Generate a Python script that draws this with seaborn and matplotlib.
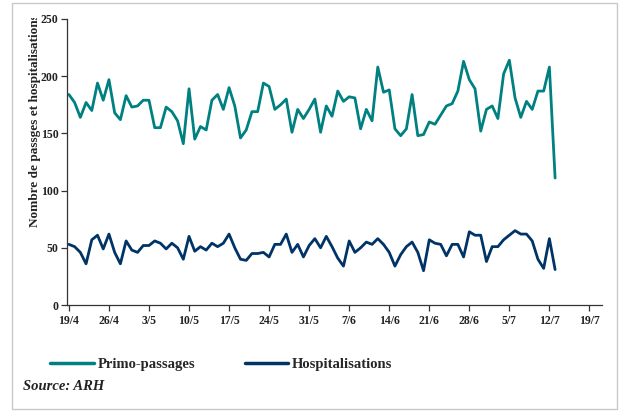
import numpy as np
import pandas as pd
import matplotlib
matplotlib.use("Agg")
import matplotlib.pyplot as plt
from matplotlib.transforms import Bbox
from matplotlib.patches import Rectangle
import seaborn as sns

# ---- data ----
start_date = "2006-04-19"
tick_labels = ["19/4", "26/4", "3/5", "10/5", "17/5", "24/5", "31/5",
               "7/6", "14/6", "21/6", "28/6", "5/7", "12/7", "19/7"]

primo = [184, 177, 164, 177, 170, 194, 179, 197, 168, 162,
         183, 173, 174, 179, 179, 155, 155, 173, 169, 161,
         141, 189, 145, 156, 153, 179, 184, 171, 190, 174,
         146, 153, 169, 169, 194, 191, 171, 175, 180, 151,
         171, 163, 171, 180, 151, 174, 165, 187, 178, 182,
         181, 154, 171, 161, 208, 186, 188, 154, 148, 154,
         184, 148, 149, 160, 158, 166, 174, 176, 187, 213,
         197, 189, 152, 171, 174, 163, 202, 214, 181, 164,
         178, 171, 187, 187, 208, 111]

hospit = [53, 51, 46, 36, 57, 61, 49, 62, 46, 36,
          56, 48, 46, 52, 52, 56, 54, 49, 54, 50,
          40, 60, 47, 51, 48, 54, 51, 54, 62, 50,
          40, 39, 45, 45, 46, 42, 53, 53, 62, 46,
          53, 42, 52, 58, 50, 60, 51, 41, 34, 56,
          46, 50, 55, 53, 58, 53, 46, 34, 44, 51,
          55, 46, 30, 57, 54, 53, 43, 53, 53, 42,
          64, 61, 61, 38, 51, 51, 57, 61, 65, 62,
          62, 56, 40, 32, 58, 31]

series_names = ["Primo-passages", "Hospitalisations"]
colors = ["#008080", "#003366"]

dates = pd.date_range(start_date, periods=len(primo), freq="D")
df = pd.DataFrame({
    "date": np.concatenate([dates, dates]),
    "valeur": primo + hospit,
    "serie": [series_names[0]] * len(primo) + [series_names[1]] * len(hospit),
})

# ---- style ----
sns.set_style("white")
plt.rcParams["font.family"] = ["Liberation Serif", "DejaVu Serif"]

fig = plt.figure(figsize=(6.27, 4.12), dpi=100)
ax = fig.add_axes([67 / 627, 1 - 305 / 412, (602 - 67) / 627, (305 - 19) / 412])

sns.lineplot(data=df, x="date", y="valeur", hue="serie",
             palette=dict(zip(series_names, colors)),
             linewidth=2.0, ax=ax, legend=False)

# axes
ax.set_ylim(0, 250)
ax.set_yticks(range(0, 251, 50))
tick_dates = pd.date_range(start_date, periods=len(tick_labels), freq="7D")
ax.set_xticks(tick_dates)
ax.set_xticklabels(tick_labels)
ax.set_xlim(dates[0] - pd.Timedelta(hours=8), tick_dates[-1] + pd.Timedelta(days=2.2))
ax.set_xlabel("")
ax.set_ylabel("")

for s in ["top", "right"]:
    ax.spines[s].set_visible(False)
for s in ["left", "bottom"]:
    ax.spines[s].set_color("#333333")
    ax.spines[s].set_linewidth(0.9)

ax.tick_params(axis="both", which="both", direction="out", length=4,
               width=0.9, color="#333333", labelsize=8.5, pad=2,
               left=True, bottom=True)
ax.tick_params(axis="x", pad=3)
for lab in ax.get_xticklabels() + ax.get_yticklabels():
    lab.set_fontweight("bold")
    lab.set_color("#222222")

# y label (clipped at the top like in the reference)
ylab = fig.text(35 / 627, 1 - 227 / 412, "Nombre de passges et hospitalisations",
                rotation=90, ha="center", va="bottom", fontsize=9.5,
                fontweight="bold", color="#222222")
ylab.set_clip_on(True)
ylab.set_clip_box(Bbox.from_extents(0, 0, 627, 412 - 18))

# legend
handles = [plt.Line2D([], [], color=c, linewidth=2.5) for c in colors]
fig.legend(handles, series_names, loc="center left",
           bbox_to_anchor=(50 / 627, 1 - 364 / 412), ncol=2, frameon=False,
           handlelength=3.0, handletextpad=0.25, columnspacing=3.4,
           borderpad=0, borderaxespad=0,
           prop={"family": "Liberation Serif", "weight": "bold", "size": 10.5})

fig.text(23 / 627, 1 - 387 / 412, "Source: ARH", ha="left", va="center",
         fontsize=10.5, fontweight="bold", fontstyle="italic", color="#222222")

# thin frame around the whole chart
fig.patches.append(Rectangle((12 / 627, 3 / 412), (617 - 12) / 627, (409 - 3) / 412,
                             transform=fig.transFigure, fill=False,
                             edgecolor="#c8c8c8", linewidth=1.0))

fig.savefig("out.png", dpi=100)
